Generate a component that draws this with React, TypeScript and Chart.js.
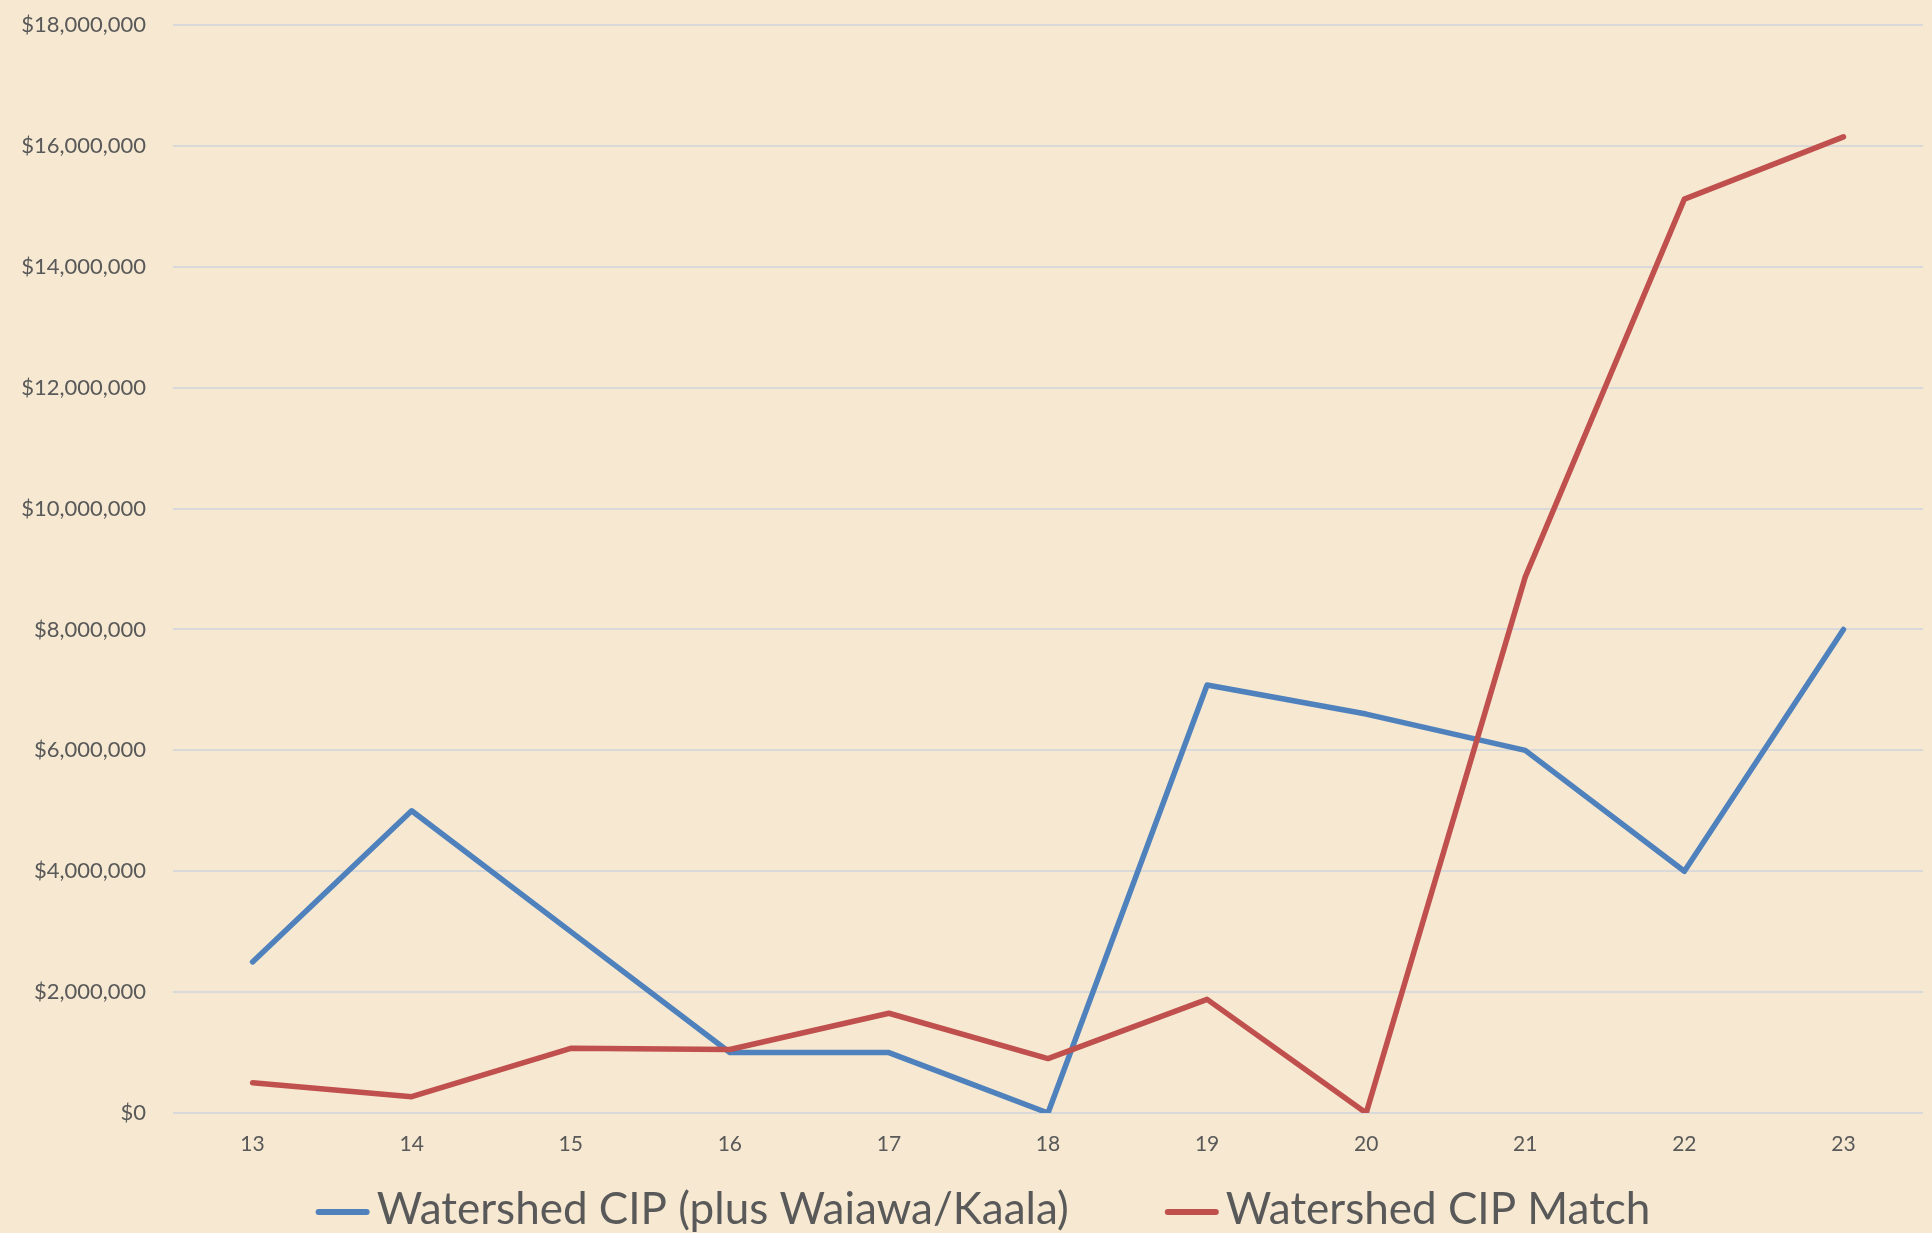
import React, { useEffect, useRef } from "react";
import { Chart, registerables } from "chart.js";

Chart.register(...registerables);

const categories = ["13", "14", "15", "16", "17", "18", "19", "20", "21", "22", "23"];
const cipValues = [2500000, 5000000, 3000000, 1000000, 1000000, 0, 7080000, 6600000, 6000000, 4000000, 8000000];
const matchValues = [500000, 270000, 1070000, 1050000, 1650000, 900000, 1880000, 0, 8870000, 15120000, 16150000];
const seriesNames = ["Watershed CIP (plus Waiawa/Kaala)", "Watershed CIP Match"];
const seriesColors = ["#4F81BD", "#C0504D"];
const yMin = 0;
const yMax = 18000000;
const yStep = 2000000;

const BG = "#F6E8D1";
const TEXT = "#595959";
const FONT = "Lato, 'Open Sans', sans-serif";

const backgroundPlugin = {
  id: "bgFill",
  beforeDraw(chart: any) {
    const ctx = chart.ctx;
    ctx.save();
    ctx.fillStyle = BG;
    ctx.fillRect(0, 0, chart.width, chart.height);
    ctx.restore();
  },
};

const legendPlugin = {
  id: "bottomLegend",
  afterDraw(chart: any) {
    const ctx = chart.ctx;
    ctx.save();
    ctx.font = `44px ${FONT}`;
    const lineW = 54;
    const gapText = 7;
    const itemGap = 96;
    const items = chart.data.datasets.map((d: any) => ({
      text: d.label as string,
      color: d.borderColor as string,
    }));
    const widths = items.map((it: any) => ctx.measureText(it.text).width);
    let total = 0;
    widths.forEach((w: number) => (total += lineW + gapText + w));
    total += itemGap * (items.length - 1);
    let x = chart.width / 2 + 17 - total / 2;
    const yLine = chart.height - 21;
    const yText = chart.height - 9;
    items.forEach((it: any, i: number) => {
      ctx.strokeStyle = it.color;
      ctx.lineWidth = 6;
      ctx.lineCap = "round";
      ctx.beginPath();
      ctx.moveTo(x + 3, yLine);
      ctx.lineTo(x + lineW - 3, yLine);
      ctx.stroke();
      ctx.fillStyle = TEXT;
      ctx.textBaseline = "alphabetic";
      ctx.textAlign = "left";
      ctx.fillText(it.text, x + lineW + gapText, yText);
      x += lineW + gapText + widths[i] + itemGap;
    });
    ctx.restore();
  },
};

export default function App() {
  const canvasRef = useRef<HTMLCanvasElement | null>(null);

  useEffect(() => {
    document.body.style.margin = "0";
    const canvas = canvasRef.current;
    if (!canvas) return;
    const chart = new Chart(canvas, {
      type: "line",
      data: {
        labels: categories,
        datasets: [
          {
            label: seriesNames[0],
            data: cipValues,
            borderColor: seriesColors[0],
            backgroundColor: seriesColors[0],
            borderWidth: 5.5,
            pointRadius: 0,
            borderCapStyle: "round",
            borderJoinStyle: "round",
            tension: 0,
            order: 1,
          },
          {
            label: seriesNames[1],
            data: matchValues,
            borderColor: seriesColors[1],
            backgroundColor: seriesColors[1],
            borderWidth: 5.5,
            pointRadius: 0,
            borderCapStyle: "round",
            borderJoinStyle: "round",
            tension: 0,
            order: 0,
          },
        ],
      },
      options: {
        responsive: false,
        animation: false,
        maintainAspectRatio: false,
        layout: { padding: { top: 25, right: 9, left: 0, bottom: 60 } },
        plugins: {
          legend: { display: false },
          tooltip: { enabled: false },
          title: { display: false },
        },
        scales: {
          x: {
            type: "category",
            offset: true,
            grid: { display: false, drawTicks: false },
            border: { display: false },
            ticks: {
              color: TEXT,
              font: { family: FONT, size: 21 },
              padding: 19,
              maxRotation: 0,
            },
            afterFit(scale: any) {
              scale.height = 60;
            },
          },
          y: {
            min: yMin,
            max: yMax,
            grid: { color: "#D9D9D9", lineWidth: 2, drawTicks: false },
            border: { display: false },
            ticks: {
              stepSize: yStep,
              color: TEXT,
              font: { family: FONT, size: 22 },
              padding: 27,
              callback: (v: any) => "$" + Number(v).toLocaleString("en-US"),
            },
            afterFit(scale: any) {
              scale.width = 173;
              scale.paddingTop = 0;
              scale.paddingBottom = 0;
            },
          },
        },
      },
      plugins: [backgroundPlugin, legendPlugin],
    });
    return () => chart.destroy();
  }, []);

  return (
    <div style={{ width: 1932, height: 1233, overflow: "hidden" }}>
      <canvas ref={canvasRef} width={1932} height={1233} style={{ display: "block" }} />
    </div>
  );
}
